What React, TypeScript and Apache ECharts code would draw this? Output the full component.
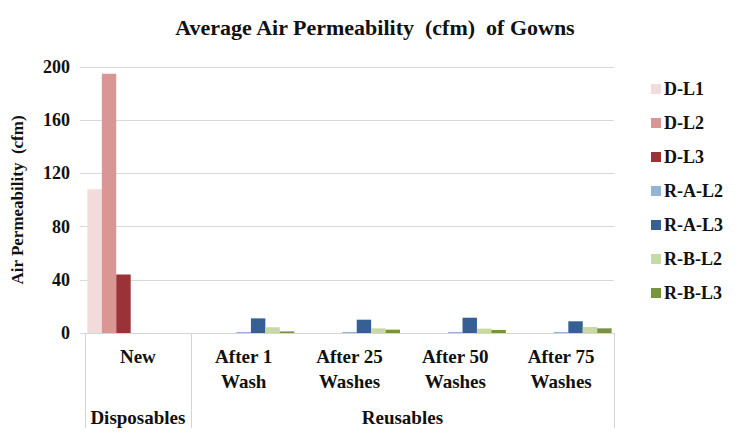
import React, { useEffect, useRef } from "react";
import * as echarts from "echarts";

const categories = ["New", "After 1\nWash", "After 25\nWashes", "After 50\nWashes", "After 75\nWashes"];
const groupNames = ["Disposables", "Reusables"];
const groupSizes = [1, 4];
const seriesNames = ["D-L1", "D-L2", "D-L3", "R-A-L2", "R-A-L3", "R-B-L2", "R-B-L3"];
const dL1 = [108, null, null, null, null];
const dL2 = [195, null, null, null, null];
const dL3 = [44, null, null, null, null];
const raL2 = [null, 0.8, 0.8, 0.8, 0.8];
const raL3 = [null, 11, 10, 11.5, 8.8];
const rbL2 = [null, 4.3, 3.5, 3.3, 4.5];
const rbL3 = [null, 1.2, 2.5, 2.3, 3.5];
const yTicks = [0, 40, 80, 120, 160, 200];

const colors = ["#f2dcdb", "#d99694", "#9b3237", "#95b3d7", "#365f94", "#c9d9a5", "#77933c"];
const FONT = "Times New Roman, Liberation Serif, DejaVu Serif, serif";

export default function App() {
  const ref = useRef<HTMLDivElement>(null);
  useEffect(() => {
    if (!ref.current) return;
    const chart = echarts.init(ref.current, null, { renderer: "svg" });
    const allData = [dL1, dL2, dL3, raL2, raL3, rbL2, rbL3];
    const bounds: number[] = [0];
    const centers: number[] = [];
    let acc = 0;
    groupSizes.forEach((s) => {
      centers.push(acc + s / 2);
      acc += s;
      bounds.push(acc);
    });
    chart.setOption({
      animation: false,
      backgroundColor: "#ffffff",
      textStyle: { fontFamily: FONT },
      title: {
        text: "Average Air Permeability  (cfm)  of Gowns",
        left: "center",
        top: 11,
        textStyle: { fontFamily: FONT, fontSize: 22, fontWeight: "bold", color: "#111" },
      },
      legend: {
        orient: "vertical",
        left: 646,
        top: 75,
        itemWidth: 10,
        itemHeight: 10,
        itemGap: 16,
        icon: "rect",
        data: seriesNames,
        textStyle: { fontFamily: FONT, fontSize: 18, fontWeight: "bold", color: "#111", lineHeight: 17, padding: [0, 0, 0, -2] },
      },
      grid: { left: 85, right: 136, top: 67, bottom: 103, containLabel: false, outerBoundsMode: "none" },
      xAxis: [
        {
          type: "category",
          data: categories,
          axisLine: { show: true, lineStyle: { color: "#d4d4d4", width: 1 } },
          axisTick: { show: false },
          axisLabel: {
            interval: 0,
            margin: 11,
            fontFamily: FONT,
            fontSize: 19,
            fontWeight: "bold",
            color: "#111",
            lineHeight: 25,
          },
        },
        {
          type: "value",
          position: "bottom",
          min: 0,
          max: acc,
          axisLine: { show: false },
          splitLine: { show: false },
          axisTick: { show: true, customValues: bounds, length: 97, lineStyle: { color: "#d4d4d4" } },
          axisLabel: {
            customValues: centers,
            formatter: (v: number) => {
              const i = centers.findIndex((c) => Math.abs(c - v) < 1e-6);
              return i >= 0 ? groupNames[i] : "";
            },
            margin: 72,
            fontFamily: FONT,
            fontSize: 19,
            fontWeight: "bold",
            color: "#111",
            lineHeight: 25,
          },
        },
      ],
      yAxis: {
        type: "value",
        min: 0,
        max: 200,
        interval: 40,
        name: "Air Permeability  (cfm)",
        nameLocation: "middle",
        nameRotate: 90,
        nameGap: 59,
        nameTextStyle: { fontFamily: FONT, fontSize: 17, fontWeight: "bold", color: "#111" },
        axisLine: { show: false },
        axisTick: { show: true, length: 5, lineStyle: { color: "#d9d9d9" } },
        splitLine: { show: true, lineStyle: { color: "#d9d9d9" } },
        axisLabel: {
          margin: 15,
          fontFamily: FONT,
          fontSize: 18,
          fontWeight: "bold",
          color: "#111",
          formatter: (v: number) => (yTicks.includes(v) ? String(v) : ""),
        },
      },
      series: seriesNames.map((name, i) => ({
        name,
        type: "bar",
        xAxisIndex: 0,
        yAxisIndex: 0,
        data: allData[i],
        barGap: "0%",
        barCategoryGap: "4.5%",
        itemStyle: { color: colors[i] },
      })),
    });
    return () => chart.dispose();
  }, []);
  return <div ref={ref} style={{ width: 750, height: 436, margin: -8 }} />;
}
